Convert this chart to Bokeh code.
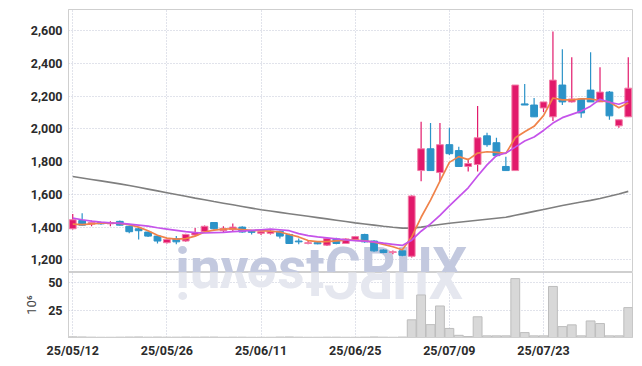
from math import pi
from bokeh.plotting import figure
from bokeh.layouts import column
from bokeh.models import ColumnDataSource, FixedTicker, NumeralTickFormatter, Range1d
from bokeh.embed import file_html
from bokeh.resources import INLINE
from bokeh.core.properties import value

dates = ["25/05/12", "25/05/13", "25/05/14", "25/05/15", "25/05/16", "25/05/19", "25/05/20", "25/05/21", "25/05/22", "25/05/23",
         "25/05/26", "25/05/27", "25/05/28", "25/05/29", "25/05/30", "25/06/02", "25/06/04", "25/06/05", "25/06/09", "25/06/10",
         "25/06/11", "25/06/12", "25/06/13", "25/06/16", "25/06/17", "25/06/18", "25/06/19", "25/06/20", "25/06/23", "25/06/24",
         "25/06/25", "25/06/26", "25/06/27", "25/06/30", "25/07/01", "25/07/02", "25/07/03", "25/07/04", "25/07/07", "25/07/08",
         "25/07/09", "25/07/10", "25/07/11", "25/07/14", "25/07/15", "25/07/16", "25/07/17", "25/07/18", "25/07/21", "25/07/22",
         "25/07/23", "25/07/24", "25/07/25", "25/07/28", "25/07/29", "25/07/30", "25/07/31", "25/08/01", "25/08/04", "25/08/05"]

opens = [1390, 1440, 1418, 1428, 1420, 1435, 1405, 1390, 1370, 1345,
         1305, 1330, 1315, 1352, 1372, 1428, 1378, 1385, 1400, 1375,
         1362, 1362, 1375, 1355, 1315, 1300, 1305, 1290, 1328, 1300,
         1325, 1355, 1315, 1260, 1245, 1255, 1222, 1745, 1878, 1733,
         1903, 1867, 1770, 1782, 1957, 1915, 1770, 1745, 2152, 2145,
         2127, 2073, 2267, 2164, 2182, 2236, 2164, 2224, 2018, 2073]
highs = [1480, 1485, 1440, 1432, 1435, 1440, 1410, 1400, 1372, 1348,
         1330, 1345, 1360, 1395, 1410, 1430, 1405, 1422, 1405, 1378,
         1378, 1385, 1380, 1360, 1330, 1315, 1310, 1335, 1335, 1332,
         1345, 1360, 1320, 1265, 1258, 1265, 1595, 2043, 2036, 2036,
         2006, 1890, 1818, 2139, 1976, 1945, 1830, 2267, 2273, 2188,
         2164, 2594, 2485, 2436, 2182, 2467, 2376, 2230, 2055, 2436]
lows = [1385, 1410, 1405, 1415, 1405, 1410, 1362, 1325, 1340, 1300,
        1300, 1295, 1310, 1345, 1365, 1385, 1370, 1375, 1365, 1355,
        1352, 1355, 1330, 1298, 1295, 1295, 1295, 1285, 1295, 1298,
        1318, 1305, 1250, 1240, 1235, 1222, 1215, 1680, 1745, 1680,
        1840, 1770, 1740, 1740, 1890, 1830, 1745, 1745, 2145, 2073,
        2103, 2048, 2145, 2160, 2067, 2164, 2164, 2055, 2006, 2073]
closes = [1445, 1412, 1428, 1420, 1428, 1412, 1372, 1378, 1345, 1315,
          1325, 1310, 1355, 1368, 1405, 1390, 1392, 1400, 1370, 1368,
          1372, 1375, 1345, 1300, 1310, 1305, 1298, 1330, 1300, 1328,
          1342, 1310, 1255, 1245, 1250, 1228, 1590, 1878, 1745, 1903,
          1848, 1770, 1788, 1945, 1903, 1836, 1745, 2267, 2145, 2073,
          2164, 2297, 2164, 2182, 2097, 2164, 2224, 2079, 2055, 2248]
volumes = [0.6, 0.5, 0.3, 0.2, 0.2, 0.3, 0.4, 0.5, 0.3, 0.4,
           0.3, 0.3, 0.4, 0.3, 0.4, 0.4, 0.2, 0.3, 0.3, 0.2,
           0.2, 0.2, 0.4, 0.5, 0.3, 0.2, 0.2, 0.3, 0.3, 0.2,
           0.2, 0.3, 0.5, 0.3, 0.2, 0.4, 16.2, 39.0, 11.8, 28.9,
           8.3, 2.0, 0.9, 19.0, 1.5, 1.5, 1.5, 54.0, 4.5, 1.5,
           1.5, 46.8, 10.0, 11.6, 1.5, 15.2, 12.8, 1.5, 1.5, 27.4]
ma5 = [1418, 1415, 1420, 1424, 1425, 1422, 1415, 1400, 1378, 1350,
       1333, 1327, 1330, 1345, 1370, 1382, 1388, 1390, 1385, 1380,
       1378, 1376, 1370, 1355, 1340, 1318, 1312, 1312, 1316, 1320,
       1320, 1316, 1308, 1295, 1280, 1262, 1340, 1460, 1565, 1680,
       1795, 1830, 1812, 1852, 1860, 1856, 1850, 1945, 1982, 2015,
       2080, 2188, 2176, 2176, 2182, 2182, 2172, 2164, 2128, 2158]
ma10 = [1455, 1445, 1436, 1430, 1426, 1424, 1418, 1412, 1406, 1396,
        1388, 1380, 1372, 1366, 1364, 1366, 1368, 1372, 1376, 1380,
        1384, 1388, 1384, 1378, 1360, 1348, 1340, 1334, 1328, 1322,
        1318, 1314, 1310, 1302, 1295, 1288, 1320, 1375, 1420, 1472,
        1530, 1585, 1640, 1712, 1780, 1836, 1852, 1888, 1925, 1950,
        1990, 2035, 2068, 2088, 2108, 2138, 2180, 2162, 2150, 2170]
ma_long = [1709, 1700, 1691, 1682, 1673, 1664, 1654, 1643, 1632, 1621,
           1610, 1599, 1588, 1577, 1567, 1556, 1546, 1536, 1526, 1516,
           1506, 1498, 1490, 1482, 1474, 1466, 1458, 1450, 1442, 1434,
           1426, 1419, 1412, 1405, 1399, 1394, 1394, 1400, 1408, 1416,
           1424, 1430, 1436, 1442, 1448, 1454, 1460, 1472, 1484, 1496,
           1508, 1520, 1532, 1543, 1553, 1563, 1575, 1588, 1602, 1618]
price_ticks = [1200, 1400, 1600, 1800, 2000, 2200, 2400, 2600]
volume_ticks = [25, 50]
date_tick_index = [0, 10, 20, 30, 40, 50]

UP, DOWN = "#e2196b", "#2c93c8"
UP_EDGE, DOWN_EDGE = "#f27ba6", "#2c93c8"
FONT = "Roboto"
GRID = "#c2c7d6"

idx = list(range(len(dates)))
up = [c >= o for o, c in zip(opens, closes)]
src = ColumnDataSource(dict(
    x=idx, high=highs, low=lows,
    top=[max(o, c) for o, c in zip(opens, closes)],
    bottom=[min(o, c) for o, c in zip(opens, closes)],
    color=[UP if u else DOWN for u in up],
    edge=[UP_EDGE if u else DOWN_EDGE for u in up],
    volume=volumes, ma5=ma5, ma10=ma10, ma_long=ma_long,
))

xr = Range1d(-0.45, 59.45)

p = figure(width=640, height=272, x_range=xr, y_range=Range1d(1123, 2728),
           output_backend="svg", toolbar_location=None, x_axis_location=None,
           min_border_left=68, min_border_right=8, min_border_top=9, min_border_bottom=0,
           background_fill_color="white", border_fill_color="white")

# watermark
p.text(x=[10.9], y=[1150], text=["investCRUX"], text_font=value("Roboto"), text_font_style="bold",
       text_font_size="55px", text_color="#c3c9df", text_baseline="alphabetic", text_align="left")

p.line("x", "ma_long", source=src, line_color="#7f7f7f", line_width=1.6)
p.segment("x", "high", "x", "low", source=src, line_color="color", line_width=1.2)
p.vbar(x="x", top="top", bottom="bottom", width=0.72, source=src,
       fill_color="color", line_color="edge", line_width=1)
p.line("x", "ma5", source=src, line_color="#f0834a", line_width=1.7)
p.line("x", "ma10", source=src, line_color="#c553ea", line_width=1.7)

p.yaxis.ticker = FixedTicker(ticks=price_ticks)
p.yaxis.formatter = NumeralTickFormatter(format="0,0")
p.xgrid.ticker = FixedTicker(ticks=date_tick_index)

v = figure(width=640, height=94, x_range=xr, y_range=Range1d(0, 59.6),
           output_backend="svg", toolbar_location=None,
           min_border_left=68, min_border_right=8, min_border_top=0, min_border_bottom=29,
           background_fill_color="white", border_fill_color="white")

# watermark reflection (letters flipped)
letters = list("investCRUX")
em = [0.26, 0.554, 0.494, 0.529, 0.517, 0.334, 0.648, 0.627, 0.641, 0.627]
px_x = []
acc = 175.0
for w in em:
    acc += w * 55
    px_x.append((acc - 72) / 9.42)
v.text(x=px_x, y=[54.5] * len(letters), text=letters, angle=pi, text_font=value("Roboto"),
       text_font_style="bold", text_font_size="55px", text_color="#e5e7ef",
       text_baseline="alphabetic", text_align="left")

v.vbar(x="x", top="volume", bottom=0, width=0.94, source=src,
       fill_color="#d8d8d8", line_color="#bdbdbd", line_width=1)

v.yaxis.ticker = FixedTicker(ticks=volume_ticks)
v.yaxis.axis_label = "10⁶"
v.yaxis.axis_label_standoff = 6
v.yaxis.axis_label_text_font = FONT
v.yaxis.axis_label_text_font_style = "normal"
v.yaxis.axis_label_text_font_size = "13px"
v.yaxis.axis_label_text_color = "#444444"
v.xaxis.ticker = FixedTicker(ticks=date_tick_index)
v.xaxis.major_label_overrides = {i: dates[i] for i in date_tick_index}

for f in (p, v):
    f.outline_line_color = "#cfcfcf"
    f.outline_line_width = 1
    for ax in f.axis:
        ax.axis_line_color = "#cfcfcf"
        ax.major_tick_line_color = None
        ax.minor_tick_line_color = None
        ax.major_tick_in = 0
        ax.major_tick_out = 0
        ax.minor_tick_out = 0
        ax.major_label_text_font = FONT
        ax.major_label_text_font_size = "12.5px"
        ax.major_label_text_font_style = "bold"
        ax.major_label_text_color = "#2b2b2b"
        ax.major_label_standoff = 6
    for g in f.grid:
        g.grid_line_color = GRID
        g.grid_line_dash = "1 2"
        g.grid_line_width = 1
v.xaxis.major_label_standoff = 5
v.xgrid.ticker = FixedTicker(ticks=date_tick_index)

layout = column(p, v, spacing=0)
open("out.html", "w").write(file_html(layout, INLINE))
